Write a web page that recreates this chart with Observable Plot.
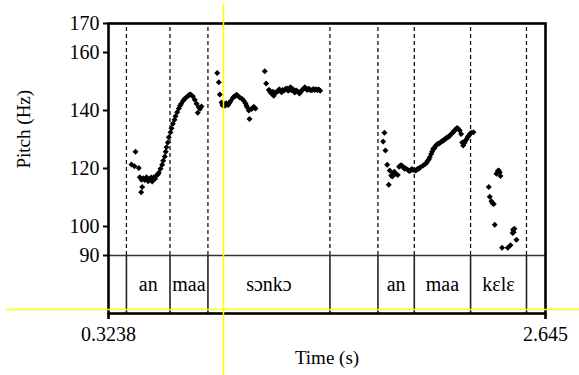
<!DOCTYPE html>
<html><head><meta charset="utf-8">
<script src="https://cdn.jsdelivr.net/npm/d3@7"></script>
<script src="https://cdn.jsdelivr.net/npm/@observablehq/plot@0.6"></script>
<style>body{margin:0;background:#fff;}</style>
</head><body><div id="chart"></div>
<script>
// Pitch track (time in s, pitch in Hz)
const times = [
  0.446,0.4619,0.4672,0.4847,0.49,0.4975,0.5028,0.5081,0.5256,0.5431,0.5559,0.5644,0.5787,0.591,0.600,0.609,0.6143,0.6228,0.6318,0.6387,0.644,0.653,0.6584,0.6653,0.6743,0.6796,0.6887,0.6972,0.7099,0.7205,0.7327,0.7471,0.7593,0.7715,0.7821,0.7912,0.798,0.8034,0.8177,
  0.4995,0.5165,0.5345,0.5505,0.5715,0.5855,0.6275,0.7035,0.7265,0.7535,0.8105,
  0.9011,0.9096,0.915,0.924,0.9362,0.9489,0.9595,0.9717,0.984,0.9983,1.0105,1.0211,1.0339,1.0424,1.0514,1.0604,1.0689,1.0727,1.0833,1.0955,1.1045,
  0.929,0.943,0.966,0.9905,1.0045,1.0565,1.0895,
  1.1539,1.1613,1.1752,1.1842,1.1932,1.2017,1.2107,1.225,1.2373,1.2495,1.2638,1.2782,1.2904,1.3026,1.3132,1.326,1.3382,1.3526,1.3664,1.3791,1.3913,1.4057,1.4195,1.4338,1.4482,
  1.1795,1.1975,1.218,1.231,1.2435,1.257,1.2715,1.284,1.2965,1.3085,1.32,1.332,1.345,1.3595,1.3725,1.385,1.3985,1.4125,1.4265,1.441,
  1.7827,1.7896,1.7949,1.804,1.8125,1.8178,1.8252,1.8359,1.8481,1.8603,1.8746,1.889,1.9012,1.9134,1.9277,1.942,1.9543,1.9665,1.9808,1.9952,2.0074,2.0196,2.0302,2.0377,2.0483,2.0605,2.0727,2.087,2.1014,2.1136,2.1258,2.1402,2.1545,2.1667,2.1789,2.1895,2.197,2.2077,2.2146,2.2252,2.2374,2.2502,2.2624,
  1.8315,1.842,1.8675,1.882,1.8955,1.9205,1.935,1.9605,1.9735,2.0135,2.025,2.043,2.055,2.0665,2.080,2.094,2.1075,2.1195,2.133,2.147,2.1605,2.1728,2.2025,2.2195,2.231,2.2435,
  2.3436,2.3489,2.3579,2.3701,2.3754,2.3845,2.3914,2.402,2.4057,2.4147,2.4444,2.4588,2.473,2.4762,2.4906,
  2.3635,2.397,2.4705,2.48
];
const pitches = [
  121.4,120.8,125.8,120.2,117.0,111.8,113.6,116.6,117.0,116.4,115.5,117.0,117.6,118.5,119.9,121.3,122.7,124.1,127.3,129.0,130.8,132.5,133.9,135.4,136.8,138.0,139.4,140.7,142.3,143.4,144.3,145.1,145.5,144.9,143.7,142.3,139.2,141.1,141.4,
  116.1,116.0,115.6,116.9,116.5,117.9,125.8,141.6,143.9,145.4,140.6,
  152.9,149.7,145.5,142.8,142.3,142.5,141.9,143.2,144.3,145.1,145.1,144.5,144.0,143.4,142.5,141.1,140.0,137.1,140.5,141.3,140.7,
  141.8,141.6,142.6,144.8,145.4,141.7,140.9,
  153.5,149.3,147.1,146.2,145.7,145.1,146.2,146.8,146.6,147.1,147.4,146.8,148.0,147.4,146.2,146.6,145.9,147.1,148.0,147.1,147.3,147.1,147.1,147.1,146.8,
  146.9,146.5,146.4,147.3,146.3,146.9,147.6,147.2,147.0,146.8,146.9,146.4,146.5,147.5,147.6,147.5,147.0,147.4,147.3,147.2,
  129.3,132.3,126.2,121.3,114.4,119.3,117.6,118.5,118.2,117.8,121.0,120.4,120.1,119.6,119.3,119.5,119.3,119.9,120.4,121.0,121.6,122.7,123.9,125.0,126.8,127.7,128.5,129.0,129.6,130.2,130.8,131.6,132.5,133.4,133.9,133.1,131.9,127.9,128.8,130.0,131.3,132.3,132.5,
  117.2,118.9,120.6,121.0,119.9,119.1,119.8,119.5,120.0,122.0,123.1,125.9,127.0,128.2,128.6,129.4,130.0,130.6,131.0,132.0,133.0,133.9,129.0,129.6,130.8,131.9,
  113.6,110.3,108.7,107.8,100.6,118.2,119.1,118.6,117.4,92.7,92.7,93.5,98.9,98.0,95.4,
  108.0,119.3,97.8,99.2
];

// Text grid tier
const boundaries = [0.419, 0.6505, 0.852, 1.500, 1.755, 1.948, 2.247, 2.544];
const tierStarts = [0.419, 0.6505, 0.852, 1.755, 1.948, 2.247];
const tierEnds   = [0.6505, 0.852, 1.500, 1.948, 2.247, 2.544];
const tierLabels = ["an", "maa", "sɔnkɔ", "an", "maa", "kɛlɛ"];

// Axes
const timeRange = [0.3238, 2.645];
const pitchRange = [70, 170];   // part below 90 Hz holds the tier
const tierFloor = 90;
const yTicks = [90, 100, 120, 140, 160, 170];
const xTicks = [0.3238, 2.645];

// Cursor lines
const cursorTime = 0.9346;
const cursorPitch = 71.4;

const points = times.map((t, i) => ({t, f: pitches[i]}));
const tiers = tierLabels.map((label, i) => ({label, mid: (tierStarts[i] + tierEnds[i]) / 2}));

const chart = Plot.plot({
  width: 579, height: 375,
  marginLeft: 108, marginRight: 34, marginTop: 23, marginBottom: 62,
  style: {fontFamily: "'Liberation Serif', 'Times New Roman', serif", fontSize: "20px", color: "black", background: "white"},
  x: {domain: timeRange},
  y: {domain: pitchRange},
  marks: [
    Plot.ruleX(boundaries, {y1: tierFloor, y2: 170, stroke: "black", strokeWidth: 1.2, strokeDasharray: "4,3"}),
    Plot.ruleX(boundaries, {y1: 70, y2: tierFloor, stroke: "#222", strokeWidth: 1.6}),
    Plot.ruleY([tierFloor], {stroke: "#333", strokeWidth: 1.6}),
    Plot.dot(points, {x: "t", y: "f", symbol: "diamond2", r: 2.7, fill: "black", stroke: "none"}),
    Plot.text(tiers, {x: "mid", y: 80, text: "label", fontSize: 20}),
    Plot.frame({stroke: "black", strokeWidth: 2.6}),
    Plot.axisY(yTicks, {tickSize: 5, tickPadding: 4, strokeWidth: 2, label: null, tickFormat: d => String(d)}),
    Plot.axisX(xTicks, {tickSize: 6, tickPadding: 7, strokeWidth: 2.6, label: null, tickFormat: d => String(d)}),
    Plot.text(["Pitch (Hz)"], {text: d => d, frameAnchor: "left", rotate: -90, dx: -85, fontSize: 19}),
    Plot.text(["Time (s)"], {text: d => d, frameAnchor: "bottom", dy: 50, fontSize: 19}),
    Plot.ruleX([cursorTime], {y1: 176.8, y2: 48.6, stroke: "#ffff00", strokeWidth: 1.5}),
    Plot.ruleY([cursorPitch], {x1: -0.218, x2: 2.826, stroke: "#ffff00", strokeWidth: 1.5})
  ]
});
document.getElementById("chart").appendChild(chart);
</script>
</body></html>
